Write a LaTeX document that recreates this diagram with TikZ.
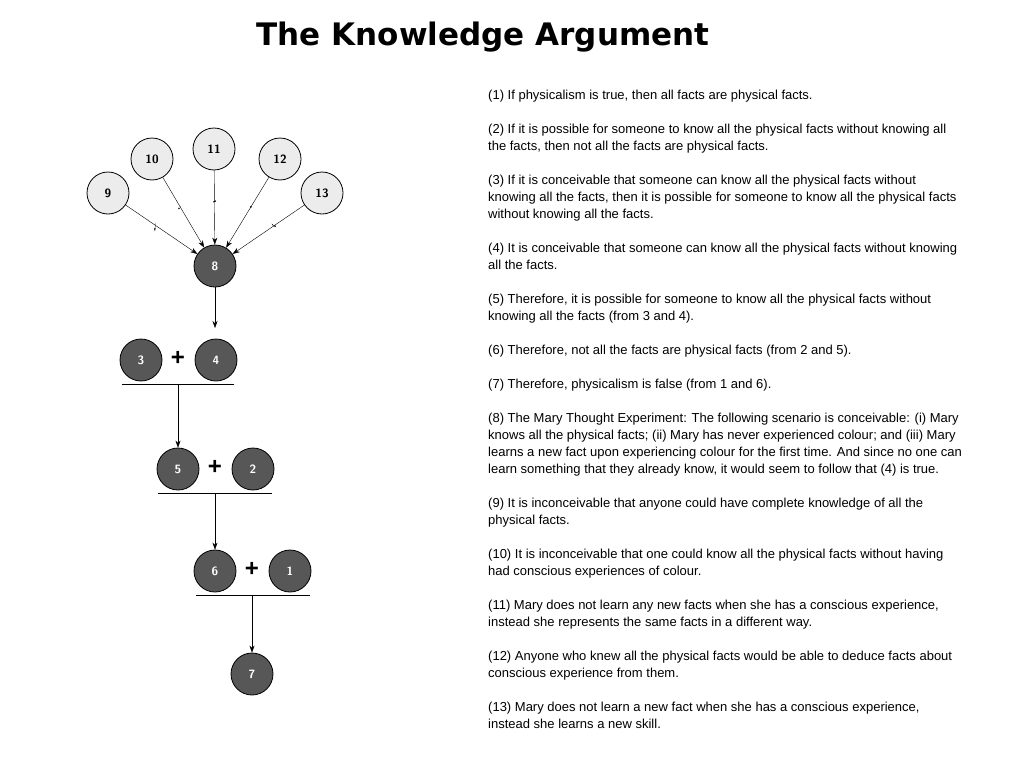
\documentclass[tikz,border=0pt]{standalone}
\usepackage{fontspec}
\setmainfont{Liberation Sans}
\newfontfamily\titlefont{DejaVu Sans}
\usetikzlibrary{arrows.meta}
\definecolor{darknode}{HTML}{575757}
\definecolor{lightnode}{HTML}{ECECEC}
\tikzset{
  premise/.style={circle, draw=black, thick, fill=lightnode, minimum size=42pt, inner sep=0pt, font=\sffamily\bfseries\fontsize{12}{12}\selectfont},
  derived/.style={premise, fill=darknode, text=white},
  arr/.style={-{Stealth[length=7pt,width=5pt]}, thin},
  tick/.style={sloped, minimum height=16pt, minimum width=1pt, inner sep=0pt, path picture={\draw[thin] (path picture bounding box.north) -- (path picture bounding box.south);}},
  para/.style={anchor=north west, align=left, inner sep=0pt, font=\fontsize{13}{17}\selectfont}
}
\begin{document}
\begin{tikzpicture}[x=1pt,y=-1pt]
\useasboundingbox (0,0) rectangle (1024,768);
\node[font=\titlefont\bfseries\fontsize{31}{31}\selectfont] (title) at (483,37) {The Knowledge Argument};
%Objections
\node[premise] (n9) at (108,193) {9};
\node[premise] (n10) at (152,159) {10};
\node[premise] (n11) at (214,149) {11};
\node[premise] (n12) at (280,159) {12};
\node[premise] (n13) at (322,193) {13};
%Argument
\node[derived] (n8) at (215,266) {8};
\node[derived] (n3) at (141,360) {3};
\node[derived] (n4) at (216,360) {4};
\node[derived] (n5) at (178,469) {5};
\node[derived] (n2) at (253,469) {2};
\node[derived] (n6) at (215,571) {6};
\node[derived] (n1) at (290,571) {1};
\node[derived] (n7) at (252,674) {7};
\node[font=\bfseries\fontsize{24}{24}\selectfont] at (178,358) {+};
\node[font=\bfseries\fontsize{24}{24}\selectfont] at (215,467) {+};
\node[font=\bfseries\fontsize{24}{24}\selectfont] at (252,569) {+};
\foreach \n in {9,10,11,12,13}
  {\draw[arr] (n\n) -- (n8) node[tick, pos=.42, rotate=20]{};}
\coordinate (c34) at (178,384);
\coordinate (c52) at (215,493);
\coordinate (c61) at (252,595);
\coordinate (t34) at (215,328);
\draw[thick] (122,384) -- (234,384);
\draw[thick] (158,493) -- (272,493);
\draw[thick] (196,595) -- (310,595);
\draw[arr] (n8) -- (t34);
\draw[arr] (c34) -- (n5);
\draw[arr] (c52) -- (n6);
\draw[arr] (c61) -- (n7);
%Premisses
\foreach \y/\t in {
90/{(1) If physicalism is true, then all facts are physical facts.},
124/{(2) If it is possible for someone to know all the physical facts without knowing all\\the facts, then not all the facts are physical facts.},
175/{(3) If it is conceivable that someone can know all the physical facts without\\knowing all the facts, then it is possible for someone to know all the physical facts\\without knowing all the facts.},
243/{(4) It is conceivable that someone can know all the physical facts without knowing\\all the facts.},
294/{(5) Therefore, it is possible for someone to know all the physical facts without\\knowing all the facts (from 3 and 4).},
345/{(6) Therefore, not all the facts are physical facts (from 2 and 5).},
379/{(7) Therefore, physicalism is false (from 1 and 6).},
413/{(8) The Mary Thought Experiment: The following scenario is conceivable: (i) Mary\\knows all the physical facts; (ii) Mary has never experienced colour; and (iii) Mary\\learns a new fact upon experiencing colour for the first time. And since no one can\\learn something that they already know, it would seem to follow that (4) is true.},
498/{(9) It is inconceivable that anyone could have complete knowledge of all the\\physical facts.},
549/{(10) It is inconceivable that one could know all the physical facts without having\\had conscious experiences of colour.},
600/{(11) Mary does not learn any new facts when she has a conscious experience,\\instead she represents the same facts in a different way.},
651/{(12) Anyone who knew all the physical facts would be able to deduce facts about\\conscious experience from them.},
702/{(13) Mary does not learn a new fact when she has a conscious experience,\\instead she learns a new skill.}}
  {\node[para] at (488,\y) {\t};}
\end{tikzpicture}
\end{document}
